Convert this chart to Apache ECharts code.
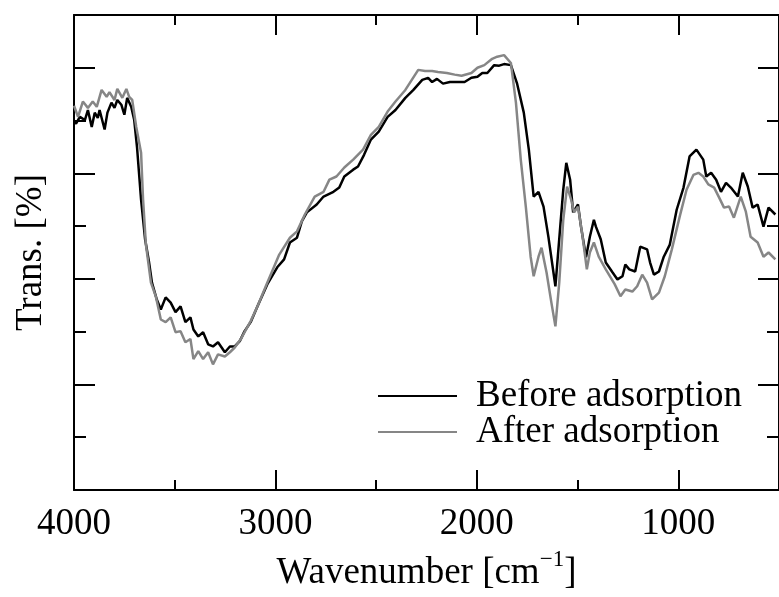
<!DOCTYPE html>
<html><head><meta charset="utf-8">
<script src="https://cdn.jsdelivr.net/npm/echarts@6/dist/echarts.min.js"></script>
<style>html,body{margin:0;padding:0;background:#fff}#c{width:779px;height:597px}</style>
</head><body><div id="c"></div>
<script>
const seriesNames = ['Before adsorption', 'After adsorption'];
const beforeWavenumber = [4000,3990,3971,3946,3931,3912,3897,3882,3873,3848,3834,3814,3799,3785,3765,3750,3736,3716,3701,3687,3667,3647,3628,3613,3589,3569,3545,3520,3496,3471,3447,3422,3407,3383,3359,3334,3310,3285,3251,3226,3202,3177,3153,3123,3089,3040,2991,2957,2928,2893,2869,2844,2795,2761,2712,2683,2658,2614,2590,2560,2526,2487,2443,2404,2355,2315,2271,2242,2222,2198,2168,2134,2095,2061,2027,1997,1973,1948,1914,1889,1865,1831,1801,1767,1742,1718,1694,1669,1645,1610,1586,1571,1556,1537,1522,1498,1483,1458,1439,1419,1409,1385,1360,1326,1302,1277,1263,1243,1214,1189,1155,1140,1121,1096,1072,1042,1008,974,944,910,876,861,837,812,788,763,739,704,680,655,631,606,577,552,518];
const beforeTrans = [69.8,69.4,70.7,70.1,72.0,68.8,71.5,70.5,72.0,68.3,71.5,73.4,72.4,73.9,73.0,71.1,74.3,72.6,70.1,64.9,55.0,47.5,43.3,39.3,36.1,34.2,36.5,35.5,33.7,34.8,31.8,32.7,30.4,29.1,29.9,27.6,27.2,28.0,26.1,27.2,27.2,28.2,30.1,31.8,34.8,39.0,42.2,43.7,46.9,47.8,50.9,52.6,54.1,55.6,56.5,57.3,59.4,60.7,61.3,63.5,66.4,67.9,70.7,72.0,74.3,75.8,77.7,78.1,77.3,77.9,77.0,77.3,77.3,77.3,78.1,78.3,79.0,79.0,80.5,80.4,80.7,80.5,77.1,71.5,64.5,55.6,56.5,53.7,48.0,38.6,49.9,56.9,62.0,58.8,52.6,54.1,49.9,44.1,48.0,51.2,49.9,47.5,43.1,41.2,39.9,40.5,42.7,41.8,41.4,46.1,45.6,43.1,40.8,41.4,44.2,46.5,53.1,57.3,63.2,64.5,62.6,59.4,60.1,58.8,56.5,58.2,57.3,55.6,60.1,57.5,53.5,54.1,49.9,53.5,52.2];
const afterWavenumber = [4000,3980,3956,3931,3907,3887,3863,3838,3824,3799,3785,3760,3740,3726,3711,3691,3667,3657,3643,3618,3594,3569,3545,3520,3496,3471,3447,3422,3407,3383,3359,3334,3310,3285,3251,3226,3202,3172,3123,3089,3040,2981,2928,2893,2854,2805,2761,2732,2697,2658,2614,2565,2526,2487,2443,2404,2355,2291,2257,2222,2193,2149,2110,2076,2027,1997,1963,1924,1899,1865,1831,1806,1782,1757,1733,1718,1694,1679,1654,1630,1610,1591,1571,1552,1532,1517,1498,1478,1454,1439,1419,1395,1360,1316,1287,1263,1228,1204,1179,1155,1130,1096,1067,1032,993,959,925,900,876,851,822,797,773,748,724,690,665,641,606,577,552,518];
const afterTrans = [72.8,70.7,73.6,72.4,73.6,72.6,75.8,74.5,75.4,73.9,76.0,74.3,76.0,74.5,73.9,68.8,63.9,55.0,46.5,39.3,36.7,32.3,31.8,32.7,29.9,30.1,28.0,28.6,24.8,26.3,24.8,26.1,23.8,25.7,25.3,26.1,27.0,28.6,32.0,34.8,39.3,44.6,47.8,49.0,52.2,55.6,56.5,58.8,59.4,61.1,62.6,64.5,67.3,68.8,71.7,73.6,75.8,79.6,79.4,79.4,79.2,79.0,78.7,78.5,79.0,80.0,80.5,81.7,82.1,82.4,80.9,73.4,62.6,53.7,44.2,40.5,44.2,45.9,41.2,35.5,31.0,39.3,51.2,57.5,55.0,52.6,53.7,48.8,41.8,45.0,46.9,44.2,41.8,39.0,36.7,38.0,37.6,38.6,40.8,39.3,36.1,37.4,40.5,45.6,51.8,56.9,59.7,60.1,59.4,57.9,57.3,55.4,53.5,53.7,51.6,55.6,52.8,48.0,46.9,44.2,45.0,43.7];
const majorXTicks = [1000, 2000, 3000, 4000];
const minorXTicks = [1500, 2500, 3500];
const majorYTicks = [0, 20, 40, 60, 80];
const minorYTicks = [10, 30, 50, 70, 90];

const FONT = "'Liberation Serif', 'Times New Roman', serif";
const chart = echarts.init(document.getElementById('c'), null, {renderer: 'canvas'});

function xAx(pos, ticks, len, showLine, labels, extra) {
  return Object.assign({
    type: 'value', position: pos, min: 500, max: 4000, inverse: true,
    axisLine: {show: showLine, onZero: false, lineStyle: {color: '#000', width: 2}},
    axisTick: {show: true, inside: true, length: len, customValues: ticks, lineStyle: {color: '#000', width: 2}},
    axisLabel: labels ? {show: true, customValues: ticks, fontSize: 37, fontFamily: FONT, color: '#000', margin: 16,
      formatter: v => String(v)} : {show: false},
    splitLine: {show: false}
  }, extra || {});
}
function yAx(pos, ticks, len, showLine, extra) {
  return Object.assign({
    type: 'value', position: pos, min: 0, max: 90,
    axisLine: {show: showLine, onZero: false, lineStyle: {color: '#000', width: 2}},
    axisTick: {show: true, inside: true, length: len, customValues: ticks, lineStyle: {color: '#000', width: 2}},
    axisLabel: {show: false},
    splitLine: {show: false}
  }, extra || {});
}

chart.setOption({
  animation: false,
  backgroundColor: '#fff',
  grid: {left: 74, top: 15, right: -10, bottom: 106, containLabel: false},
  legend: {
    orient: 'vertical', left: 378, top: 377, padding: 0, itemWidth: 79, itemHeight: 2, itemGap: -2,
    icon: 'rect',
    data: seriesNames,
    textStyle: {fontSize: 37, fontFamily: FONT, color: '#000', lineHeight: 38, padding: [0, 0, 0, 14]}
  },
  xAxis: [
    xAx('bottom', majorXTicks, 20, true, true, {
      name: '{a|Wavenumber [cm}{s|\u22121}{a|]}', nameLocation: 'middle', nameGap: 58,
      nameTextStyle: {rich: {
        a: {fontSize: 37, fontFamily: FONT, color: '#000', lineHeight: 44, verticalAlign: 'bottom'},
        s: {fontSize: 23, fontFamily: FONT, color: '#000', lineHeight: 44, verticalAlign: 'top'}
      }}
    }),
    xAx('bottom', minorXTicks, 10, false, false),
    xAx('top', majorXTicks, 20, true, false),
    xAx('top', minorXTicks, 10, false, false)
  ],
  yAxis: [
    yAx('left', majorYTicks, 21, true, {
      name: 'Trans. [%]', nameLocation: 'middle', nameGap: 24, nameRotate: 90,
      nameTextStyle: {fontSize: 37, fontFamily: FONT, color: '#000'}
    }),
    yAx('left', minorYTicks, 12, false),
    yAx('right', majorYTicks, 21, true),
    yAx('right', minorYTicks, 12, false)
  ],
  series: [
    {name: seriesNames[0], type: 'line', xAxisIndex: 0, yAxisIndex: 0, showSymbol: false, symbol: 'none',
     lineStyle: {color: '#000', width: 2.5}, itemStyle: {color: '#000'},
     data: beforeWavenumber.map((w, i) => [w, beforeTrans[i]])},
    {name: seriesNames[1], type: 'line', xAxisIndex: 0, yAxisIndex: 0, showSymbol: false, symbol: 'none',
     lineStyle: {color: '#868686', width: 2.5}, itemStyle: {color: '#868686'},
     data: afterWavenumber.map((w, i) => [w, afterTrans[i]])}
  ]
});
</script></body></html>
